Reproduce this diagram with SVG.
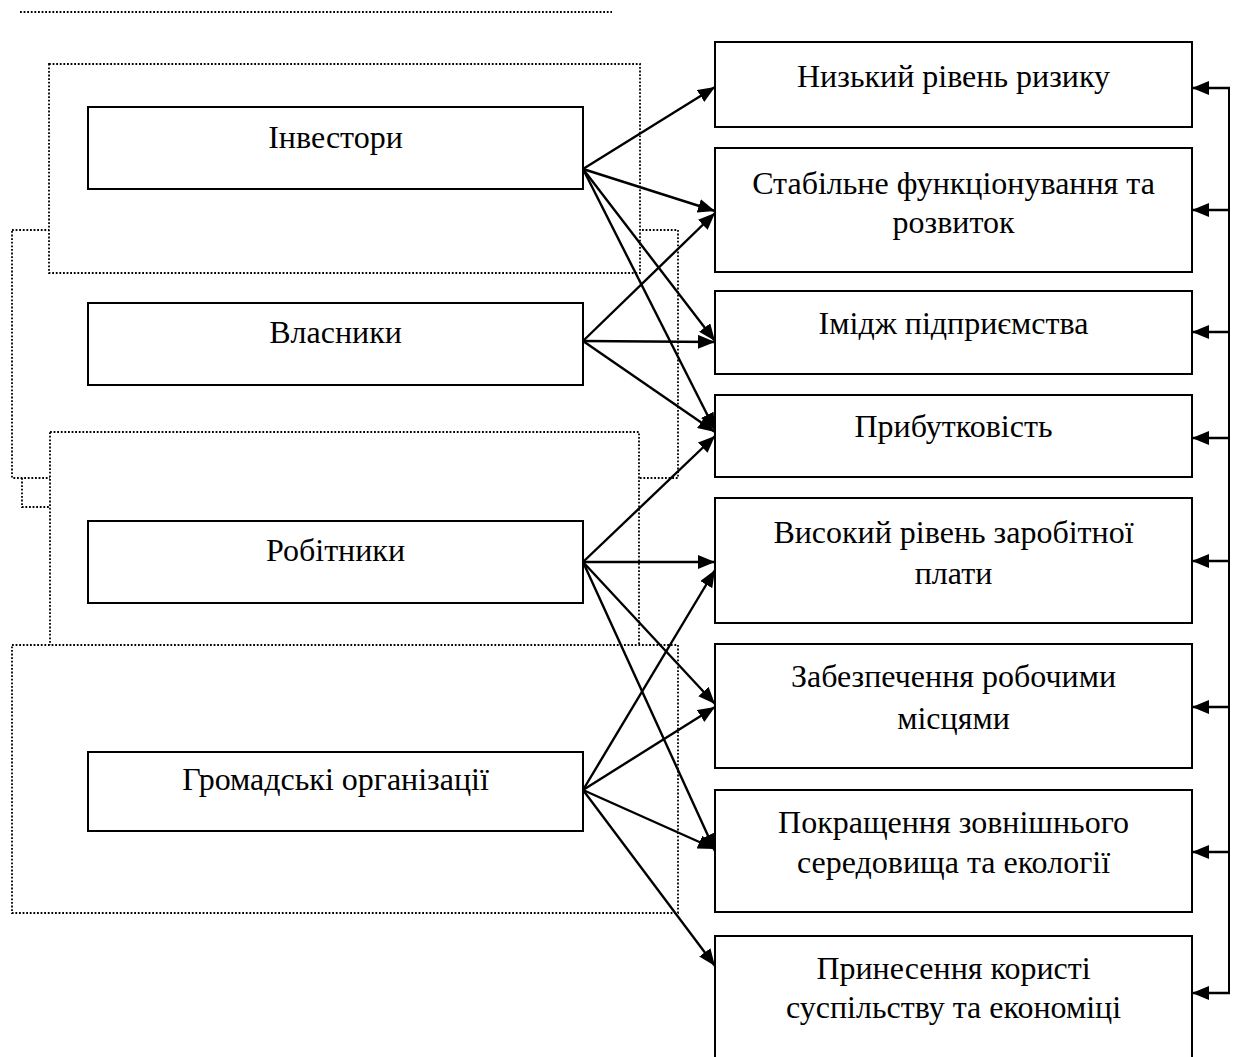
<svg xmlns="http://www.w3.org/2000/svg" width="1238" height="1057" viewBox="0 0 1238 1057">
<style>
.dot{fill:#fff;stroke:#000;stroke-width:1.8;stroke-dasharray:1.8 1.8}
.dotl{fill:none;stroke:#000;stroke-width:1.8;stroke-dasharray:1.8 1.8}
.box{fill:#fff;stroke:#000;stroke-width:2}
.t{font-family:"Liberation Serif","Times New Roman",serif;font-size:32px;fill:#000;text-anchor:middle}
.c{fill:none;stroke:#000;stroke-width:2.4;marker-end:url(#ah)}
.l{fill:none;stroke:#000;stroke-width:2}
</style>
<defs>
<marker id="ah" markerUnits="userSpaceOnUse" markerWidth="17" markerHeight="14" refX="17" refY="7" orient="auto">
<path d="M0,0 L17,7 L0,14 z" fill="#000"/>
</marker>
</defs>
<rect width="1238" height="1057" fill="#fff"/>
<line class="dotl" x1="20" y1="12" x2="612" y2="12"/>
<g id="groups">
<rect class="dot" x="12" y="230" width="666" height="248"/>
<path class="dotl" d="M22,478 V507 H49"/>
<rect class="dot" x="49" y="64" width="591" height="209"/>
<rect class="dot" x="50" y="432" width="589" height="240"/>
<rect class="dot" x="12" y="645" width="666" height="268"/>
</g>
<g id="n-investors"><rect class="box" x="88" y="107" width="495" height="82"/><text class="t" x="335.5" y="148">Інвестори</text></g>
<g id="n-owners"><rect class="box" x="88" y="303" width="495" height="82"/><text class="t" x="335.5" y="343">Власники</text></g>
<g id="n-workers"><rect class="box" x="88" y="521" width="495" height="82"/><text class="t" x="335.5" y="561">Робітники</text></g>
<g id="n-public"><rect class="box" x="88" y="752" width="495" height="79"/><text class="t" x="335.5" y="790">Громадські організації</text></g>
<g id="n-risk"><rect class="box" x="715" y="42" width="477" height="85"/><text class="t" x="953.5" y="87">Низький рівень ризику</text></g>
<g id="n-stable"><rect class="box" x="715" y="148" width="477" height="124"/><text class="t" x="953.5" y="194">Стабільне функціонування та</text><text class="t" x="953.5" y="233">розвиток</text></g>
<g id="n-image"><rect class="box" x="715" y="291" width="477" height="83"/><text class="t" x="953.5" y="334">Імідж підприємства</text></g>
<g id="n-profit"><rect class="box" x="715" y="395" width="477" height="82"/><text class="t" x="953.5" y="437">Прибутковість</text></g>
<g id="n-wage"><rect class="box" x="715" y="498" width="477" height="125"/><text class="t" x="953.5" y="543">Високий рівень заробітної</text><text class="t" x="953.5" y="584">плати</text></g>
<g id="n-jobs"><rect class="box" x="715" y="644" width="477" height="124"/><text class="t" x="953.5" y="687">Забезпечення робочими</text><text class="t" x="953.5" y="729">місцями</text></g>
<g id="n-env"><rect class="box" x="715" y="790" width="477" height="122"/><text class="t" x="953.5" y="833">Покращення зовнішнього</text><text class="t" x="953.5" y="873">середовища та екології</text></g>
<g id="n-benefit"><rect class="box" x="715" y="936" width="477" height="130"/><text class="t" x="953.5" y="979">Принесення користі</text><text class="t" x="953.5" y="1018">суспільству та економіці</text></g>
<g id="connectors">
<line class="c" x1="583" y1="169" x2="715" y2="87"/>
<line class="c" x1="583" y1="169" x2="715" y2="211"/>
<line class="c" x1="583" y1="169" x2="715" y2="341"/>
<line class="c" x1="583" y1="169" x2="715" y2="430"/>
<line class="c" x1="583" y1="341" x2="715" y2="213"/>
<line class="c" x1="583" y1="341" x2="715" y2="342"/>
<line class="c" x1="583" y1="341" x2="715" y2="432"/>
<line class="c" x1="583" y1="562" x2="715" y2="436"/>
<line class="c" x1="583" y1="562" x2="715" y2="562"/>
<line class="c" x1="583" y1="562" x2="715" y2="704"/>
<line class="c" x1="583" y1="562" x2="715" y2="851"/>
<line class="c" x1="583" y1="790" x2="715" y2="570"/>
<line class="c" x1="583" y1="790" x2="715" y2="707"/>
<line class="c" x1="583" y1="790" x2="715" y2="849"/>
<line class="c" x1="583" y1="790" x2="715" y2="966"/>
<line class="l" x1="1229" y1="87" x2="1229" y2="994"/>
<line class="c" x1="1230" y1="88" x2="1192" y2="88"/>
<line class="c" x1="1230" y1="210" x2="1192" y2="210"/>
<line class="c" x1="1230" y1="332" x2="1192" y2="332"/>
<line class="c" x1="1230" y1="438" x2="1192" y2="438"/>
<line class="c" x1="1230" y1="561" x2="1192" y2="561"/>
<line class="c" x1="1230" y1="707" x2="1192" y2="707"/>
<line class="c" x1="1230" y1="852" x2="1192" y2="852"/>
<line class="c" x1="1230" y1="993" x2="1192" y2="993"/>
</g>
</svg>
